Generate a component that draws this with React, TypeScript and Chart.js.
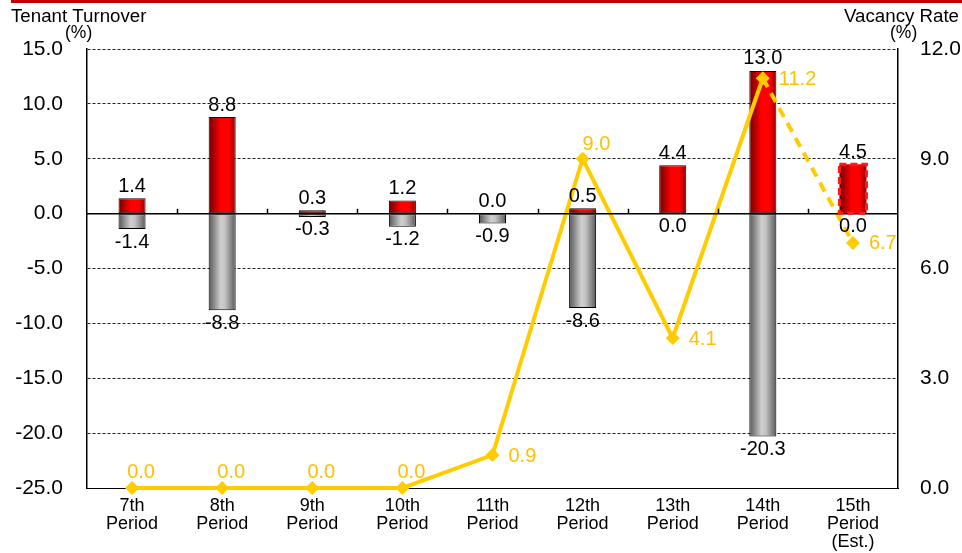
import React, { useEffect, useRef } from "react";
import { Chart, registerables } from "chart.js";

Chart.register(...registerables);

const categories: string[][] = [
  ["7th", "Period"],
  ["8th", "Period"],
  ["9th", "Period"],
  ["10th", "Period"],
  ["11th", "Period"],
  ["12th", "Period"],
  ["13th", "Period"],
  ["14th", "Period"],
  ["15th", "Period", "(Est.)"],
];
const moveIn: number[] = [1.4, 8.8, 0.3, 1.2, 0.0, 0.5, 4.4, 13.0, 4.5];
const moveOut: number[] = [-1.4, -8.8, -0.3, -1.2, -0.9, -8.6, 0.0, -20.3, 0.0];
const vacancy: number[] = [0.0, 0.0, 0.0, 0.0, 0.9, 9.0, 4.1, 11.2, 6.7];
const vacancyLabelPlace: string[] = ["above", "above", "above", "above", "right", "aboveRight", "right", "right", "right"];
const estimateIndex = 8;

const FONT = "'Liberation Sans', Arial, sans-serif";
const BAR_PCT = 0.3;

function gradientFill(stops: [number, string][], solid: string) {
  return (ctx: any) => {
    const chart = ctx.chart;
    const xs = chart.scales && chart.scales.x;
    if (!xs || ctx.dataIndex === undefined || !chart.chartArea) return solid;
    const cx = xs.getPixelForValue(ctx.dataIndex);
    const w = (xs.width / categories.length) * BAR_PCT;
    const g = chart.ctx.createLinearGradient(cx - w / 2, 0, cx + w / 2, 0);
    stops.forEach(([o, c]) => g.addColorStop(o, c));
    return g;
  };
}

const overlayPlugin = {
  id: "overlay",
  afterDatasetsDraw(chart: any) {
    const ctx = chart.ctx;
    const xs = chart.scales.x;
    const ys = chart.scales.y;
    const area = chart.chartArea;
    const y0 = ys.getPixelForValue(0);
    ctx.save();
    ctx.strokeStyle = "#000";
    ctx.lineWidth = 1.5;
    ctx.setLineDash([]);
    ctx.beginPath();
    ctx.moveTo(area.left, y0);
    ctx.lineTo(area.right, y0);
    const step = xs.width / categories.length;
    for (let i = 1; i < categories.length; i++) {
      const bx = Math.round(area.left + step * i) + 0.5;
      ctx.moveTo(bx, y0);
      ctx.lineTo(bx, y0 - 5);
    }
    ctx.stroke();

    const redMeta = chart.getDatasetMeta(0);
    const est = redMeta.data[estimateIndex];
    if (est) {
      const p = est.getProps(["x", "y", "base", "width"], true);
      ctx.strokeStyle = "#ff1a1a";
      ctx.lineWidth = 3;
      ctx.setLineDash([7, 4]);
      ctx.strokeRect(p.x - p.width / 2, p.y, p.width, p.base - p.y);
      ctx.setLineDash([]);
    }

    ctx.font = `20px ${FONT}`;
    ctx.fillStyle = "#000";
    ctx.textAlign = "center";
    redMeta.data.forEach((el: any, i: number) => {
      const p = el.getProps(["x", "y"], true);
      ctx.textBaseline = "bottom";
      ctx.fillText(moveIn[i].toFixed(1), p.x, p.y - 2);
    });
    const grayMeta = chart.getDatasetMeta(1);
    grayMeta.data.forEach((el: any, i: number) => {
      const p = el.getProps(["x", "y"], true);
      ctx.textBaseline = "top";
      ctx.fillText(moveOut[i].toFixed(1), p.x, p.y + 3);
    });

    const lineMeta = chart.getDatasetMeta(2);
    ctx.fillStyle = "#FFC000";
    ctx.textBaseline = "middle";
    lineMeta.data.forEach((el: any, i: number) => {
      const p = el.getProps(["x", "y"], true);
      const t = vacancy[i].toFixed(1);
      const place = vacancyLabelPlace[i];
      if (place === "above") {
        ctx.textAlign = "center";
        ctx.fillText(t, p.x + 9, p.y - 16);
      } else if (place === "aboveRight") {
        ctx.textAlign = "left";
        ctx.fillText(t, p.x, p.y - 14);
      } else {
        ctx.textAlign = "left";
        ctx.fillText(t, p.x + 16, p.y + 1);
      }
    });
    ctx.restore();
  },
  afterDraw(chart: any) {
    const ctx = chart.ctx;
    ctx.save();
    ctx.fillStyle = "#c00000";
    ctx.fillRect(11, 0, chart.width - 11, 3);
    ctx.fillStyle = "#000";
    ctx.textBaseline = "alphabetic";
    ctx.font = `18.7px ${FONT}`;
    ctx.textAlign = "left";
    ctx.fillText("Tenant Turnover", 11, 22);
    ctx.textAlign = "right";
    ctx.fillText("Vacancy Rate", 959, 22);
    ctx.font = `17.5px ${FONT}`;
    ctx.textAlign = "left";
    ctx.fillText("(%)", 65, 38);
    ctx.fillText("(%)", 890, 38);
    ctx.restore();
  },
};

export default function App() {
  const ref = useRef<HTMLCanvasElement | null>(null);
  useEffect(() => {
    if (!ref.current) return;
    const chart = new Chart(ref.current, {
      type: "bar",
      data: {
        labels: categories,
        datasets: [
          {
            type: "bar",
            label: "Move-in",
            data: moveIn,
            yAxisID: "y",
            grouped: false,
            backgroundColor: gradientFill(
              [
                [0, "#700000"],
                [0.45, "#ff0000"],
                [0.75, "#ff0000"],
                [1, "#900000"],
              ],
              "#ff0000"
            ),
            borderColor: "#1a0000",
            borderWidth: (c: any) => (c.dataIndex === estimateIndex ? 0 : 1),
            borderSkipped: false,
            barPercentage: BAR_PCT,
            categoryPercentage: 1,
            order: 2,
          } as any,
          {
            type: "bar",
            label: "Move-out",
            data: moveOut,
            yAxisID: "y",
            grouped: false,
            backgroundColor: gradientFill(
              [
                [0, "#555555"],
                [0.45, "#cfcfcf"],
                [0.6, "#c4c4c4"],
                [1, "#5a5a5a"],
              ],
              "#aaaaaa"
            ),
            borderColor: "#000",
            borderWidth: 1,
            borderSkipped: false,
            barPercentage: BAR_PCT,
            categoryPercentage: 1,
            order: 2,
          } as any,
          {
            type: "line",
            label: "Vacancy Rate",
            data: vacancy,
            yAxisID: "y1",
            borderColor: "#FFCC00",
            backgroundColor: "#FFCC00",
            borderWidth: 4,
            pointStyle: "rectRot",
            pointRadius: 7,
            pointBorderWidth: 0,
            pointBackgroundColor: "#FFCC00",
            tension: 0,
            clip: false,
            segment: {
              borderDash: (c: any) => (c.p1DataIndex === estimateIndex ? [10, 7] : undefined),
            },
            order: 1,
          } as any,
        ],
      },
      options: {
        animation: false,
        responsive: false,
        maintainAspectRatio: false,
        layout: { padding: { top: 49, bottom: 0, left: 0, right: 0 } },
        plugins: {
          legend: { display: false },
          tooltip: { enabled: false },
          title: { display: false },
        },
        scales: {
          x: {
            grid: { display: false, drawTicks: false },
            border: { display: true, color: "#000", width: 1, dash: [3, 2] },
            ticks: {
              color: "#000",
              font: { family: FONT, size: 18, lineHeight: 1.0 },
              padding: 9,
              maxRotation: 0,
              autoSkip: false,
            },
            afterFit: (s: any) => {
              s.height = 65;
            },
          },
          y: {
            position: "left",
            min: -25,
            max: 15,
            ticks: {
              stepSize: 5,
              color: "#000",
              font: { family: FONT, size: 21 },
              padding: 24,
              callback: (v: any) => Number(v).toFixed(1),
            },
            grid: { color: "#222", lineWidth: 1, drawTicks: false },
            border: { display: true, color: "#000", width: 1.5, dash: [3, 2] },
            afterFit: (s: any) => {
              s.width = 87;
            },
          },
          y1: {
            position: "right",
            min: 0,
            max: 12,
            ticks: {
              stepSize: 3,
              color: "#000",
              font: { family: FONT, size: 21 },
              padding: 22,
              callback: (v: any) => Number(v).toFixed(1),
            },
            grid: { display: false, drawTicks: false },
            border: { display: true, color: "#000", width: 1.5 },
            afterFit: (s: any) => {
              s.width = 64;
            },
          },
        },
      },
      plugins: [overlayPlugin],
    });
    return () => chart.destroy();
  }, []);
  return (
    <div style={{ position: "fixed", left: 0, top: 0, width: 962, height: 553, background: "#fff" }}>
      <canvas ref={ref} width={962} height={553} style={{ width: 962, height: 553, display: "block" }} />
    </div>
  );
}
